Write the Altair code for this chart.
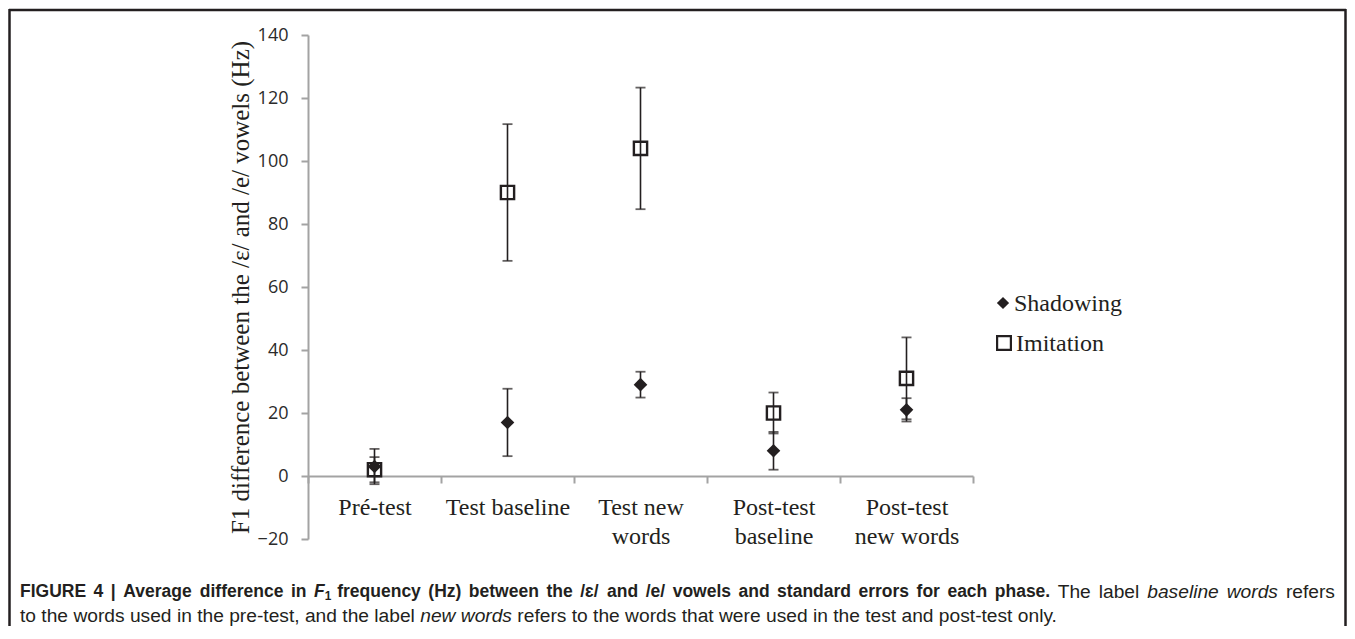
import altair as alt
import pandas as pd

# ---------------- data ----------------
phase_labels = ["Pré-test", "Test baseline", "Test new|words", "Post-test|baseline", "Post-test|new words"]
series_names = ["Shadowing", "Imitation"]
shadowing_mean = [3, 17, 29, 8, 21]
shadowing_se = [5.6, 10.7, 4.1, 6.0, 3.7]
imitation_mean = [2, 90, 104, 20, 31]
imitation_se = [4.0, 21.7, 19.3, 6.5, 13.0]
y_ticks = [-20, 0, 20, 40, 60, 80, 100, 120, 140]
y_title = "F1 difference between the /ɛ/ and /e/ vowels (Hz)"

# caption segments: (text, weight, style, space_after)
cap_line1 = [
    ("FIGURE 4 | Average difference in", "bold", "normal", True),
    ("F", "bold", "italic", False),
    ("1", "bold", "sub", True),
    ("frequency (Hz) between the /ɛ/ and /e/ vowels and standard errors for each phase.", "bold", "normal", True),
    ("The label", "normal", "normal", True),
    ("baseline words", "normal", "italic", True),
    ("refers", "normal", "normal", False),
]
cap_line2 = [
    ("to the words used in the pre-test, and the label", "normal", "normal", True),
    ("new words", "normal", "italic", True),
    ("refers to the words that were used in the test and post-test only.", "normal", "normal", False),
]

# ---------------- tables ----------------
def table(means, ses):
    return pd.DataFrame({
        "phase": phase_labels,
        "mean": means,
        "lo": [m - s for m, s in zip(means, ses)],
        "hi": [m + s for m, s in zip(means, ses)],
    })

sh = table(shadowing_mean, shadowing_se)
im = table(imitation_mean, imitation_se)
both = pd.concat([im, sh], ignore_index=True)

INK = "#231f20"
AXIS_GRAY = "#a3a3a3"
SERIF = "Liberation Serif"
W, H = 665, 504

xscale = alt.Scale(type="band", paddingInner=0, paddingOuter=0, domain=phase_labels)
xaxis = alt.Axis(
    title=None, orient="bottom", offset=-63, tickBand="extent",
    domainColor=AXIS_GRAY, domainWidth=2, tickColor=AXIS_GRAY, tickWidth=2, tickSize=7,
    labelFont=SERIF, labelFontSize=24, labelColor=INK, labelPadding=12,
    labelLineHeight=29, labelLimit=300, labelAngle=0,
    labelExpr="split(datum.label, '|')",
)
yscale = alt.Scale(domain=[-20, 140], nice=False, zero=False)
yaxis = alt.Axis(
    values=y_ticks, grid=False, domainColor=AXIS_GRAY, domainWidth=2,
    tickColor=AXIS_GRAY, tickWidth=2, tickSize=7,
    labelFont="Open Sans", labelFontSize=18, labelColor="#2b2b2b", labelPadding=13,
    titleFont=SERIF, titleFontSize=25, titleFontWeight="normal", titleColor=INK,
    titleX=-68, titleY=252, titleBaseline="middle", titleAlign="center", titleAngle=270,
)

def X():
    return alt.X("phase:N", scale=xscale, axis=xaxis, sort=phase_labels)

def Y(field):
    return alt.Y(f"{field}:Q", scale=yscale, axis=yaxis, title=y_title)

rules = alt.Chart(both).mark_rule(color=INK, strokeWidth=1.6).encode(
    x=X(), y=Y("lo"), y2="hi:Q")
caps_lo = alt.Chart(both).mark_tick(color=INK, size=10, thickness=1.8).encode(x=X(), y=Y("lo"))
caps_hi = alt.Chart(both).mark_tick(color=INK, size=10, thickness=1.8).encode(x=X(), y=Y("hi"))

im_pts = alt.Chart(im).mark_point(shape="square", filled=False, size=175, strokeWidth=2.4,
                                  color=INK, opacity=1).encode(x=X(), y=Y("mean"))
sh_pts = alt.Chart(sh).mark_point(shape="diamond", filled=True, size=185,
                                  color=INK, opacity=1).encode(x=X(), y=Y("mean"))

# ---------------- legend ----------------
leg = pd.DataFrame({"series": series_names})
leg_sh_sym = alt.Chart(leg).transform_filter(alt.datum.series == series_names[0]).mark_point(
    shape="diamond", filled=True, size=150, color=INK, opacity=1).encode(
    x=alt.value(695), y=alt.value(268))
leg_sh_txt = alt.Chart(leg).transform_filter(alt.datum.series == series_names[0]).mark_text(
    align="left", baseline="middle", font=SERIF, fontSize=24, color=INK).encode(
    x=alt.value(706), y=alt.value(269), text="series:N")
leg_im_sym = alt.Chart(leg).transform_filter(alt.datum.series == series_names[1]).mark_point(
    shape="square", filled=False, size=190, strokeWidth=2.2, color=INK, opacity=1).encode(
    x=alt.value(696), y=alt.value(308))
leg_im_txt = alt.Chart(leg).transform_filter(alt.datum.series == series_names[1]).mark_text(
    align="left", baseline="middle", font=SERIF, fontSize=24, color=INK).encode(
    x=alt.value(708), y=alt.value(309), text="series:N")

# ---------------- caption ----------------
AR = {' ': 278, ',': 278, '-': 333, '.': 278, '/': 278, '(': 333, ')': 333, '|': 260,
      'A': 667, 'E': 667, 'F': 611, 'G': 778, 'H': 722, 'I': 278, 'R': 722, 'T': 611, 'U': 722,
      'a': 556, 'b': 556, 'c': 500, 'd': 556, 'e': 556, 'f': 278, 'g': 556, 'h': 556, 'i': 222,
      'l': 222, 'n': 556, 'o': 556, 'p': 556, 'q': 556, 'r': 333, 's': 500, 't': 278, 'u': 556,
      'v': 500, 'w': 722, 'y': 500, 'z': 500, 'ɛ': 500}
ARB = {' ': 278, ',': 278, '-': 333, '.': 278, '/': 278, '(': 333, ')': 333, '|': 280,
       'A': 722, 'E': 667, 'F': 611, 'G': 778, 'H': 722, 'I': 278, 'R': 722, 'T': 611, 'U': 722,
       'a': 556, 'b': 611, 'c': 556, 'd': 611, 'e': 556, 'f': 333, 'g': 611, 'h': 611, 'i': 278,
       'l': 278, 'n': 611, 'o': 611, 'p': 611, 'q': 611, 'r': 389, 's': 556, 't': 333, 'u': 611,
       'v': 556, 'w': 778, 'y': 556, 'z': 500, 'ɛ': 556}
CAP_FONT = "Liberation Sans"
SIZE_NORMAL = 19.2
SIZE_BOLD = 17.5
CAP_LEFT = -288           # x of caption start, relative to plot origin
CAP_RIGHT = 1027          # justified right edge of line 1

def size_of(weight, style):
    base = SIZE_BOLD if weight == "bold" else SIZE_NORMAL
    return base * 0.68 if style == "sub" else base

def width(txt, weight, size):
    tab = ARB if weight == "bold" else AR
    return sum(tab.get(ch, 556) for ch in txt) * size / 1000.0

def tokens(segs):
    out = []
    for txt, weight, style, space_after in segs:
        words = txt.split(" ")
        for j, w in enumerate(words):
            last = j == len(words) - 1
            out.append((w, weight, style, space_after if last else True))
    return out

def caption_layers(segs, y0, justify_to=None):
    toks = tokens(segs)
    natural = 0.0
    gaps = 0
    for w, weight, style, sp in toks:
        size = size_of(weight, style)
        natural += width(w, weight, size)
        if sp:
            natural += width(" ", weight, size)
            gaps += 1
    extra = 0.0
    if justify_to is not None and gaps > 0:
        extra = max(0.0, (justify_to - CAP_LEFT - natural) / gaps)
    out = []
    x = CAP_LEFT
    for w, weight, style, sp in toks:
        size = size_of(weight, style)
        dy = 4 if style == "sub" else 0
        c = alt.Chart(pd.DataFrame({"t": [w]})).mark_text(
            align="left", baseline="middle", font=CAP_FONT, fontSize=size,
            fontWeight=weight, fontStyle="italic" if style == "italic" else "normal",
            color=INK, dy=dy).encode(x=alt.value(round(x, 2)), y=alt.value(y0), text="t:N")
        out.append(c)
        x += width(w, weight, size)
        if sp:
            x += width(" ", weight, size) + extra
    return out

cap_layers = caption_layers(cap_line1, 557, justify_to=CAP_RIGHT) + caption_layers(cap_line2, 581)

# ---------------- frame ----------------
one = pd.DataFrame({"k": [0]})
frame_top = alt.Chart(one).mark_rule(color=INK, strokeWidth=2.5).encode(
    x=alt.value(-299), x2=alt.value(1038), y=alt.value(-25))
frame_left = alt.Chart(one).mark_rule(color=INK, strokeWidth=2.5).encode(
    x=alt.value(-298.5), y=alt.value(-26), y2=alt.value(600))
frame_right = alt.Chart(one).mark_rule(color=INK, strokeWidth=2.5).encode(
    x=alt.value(1037.5), y=alt.value(-26), y2=alt.value(600))

chart = alt.layer(
    rules, caps_lo, caps_hi, im_pts, sh_pts,
    leg_sh_sym, leg_sh_txt, leg_im_sym, leg_im_txt,
    *cap_layers, frame_top, frame_left, frame_right,
).properties(
    width=W, height=H,
    padding={"left": 300, "top": 27, "right": 374, "bottom": 87},
    autosize=alt.AutoSizeParams(type="none"),
    background="white",
).configure_view(stroke=None)

chart.save("out.html", embed_options={"renderer": "svg", "actions": False})
